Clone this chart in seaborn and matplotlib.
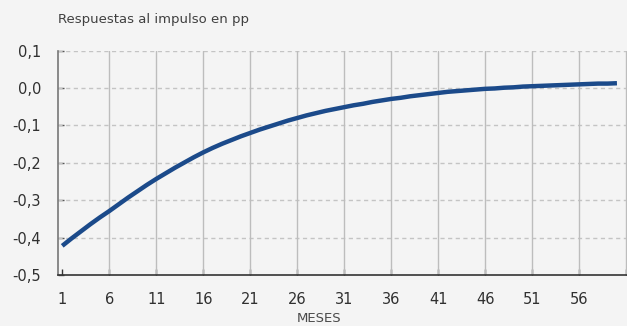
import numpy as np
import pandas as pd
import seaborn as sns
import matplotlib
matplotlib.use("Agg")
import matplotlib.pyplot as plt

# impulse response
meses = list(range(1, 61))
respuesta = [
    -0.422, -0.402, -0.383, -0.364, -0.346,
    -0.329, -0.311, -0.293, -0.276, -0.259,
    -0.243, -0.228, -0.213, -0.199, -0.185,
    -0.172, -0.160, -0.149, -0.139, -0.129,
    -0.120, -0.111, -0.103, -0.095, -0.087,
    -0.080, -0.073, -0.067, -0.061, -0.056,
    -0.051, -0.046, -0.042, -0.037, -0.033,
    -0.029, -0.026, -0.022, -0.019, -0.016,
    -0.013, -0.010, -0.008, -0.006, -0.004,
    -0.002, -0.001, 0.001, 0.002, 0.004,
    0.005, 0.006, 0.007, 0.008, 0.009,
    0.010, 0.011, 0.012, 0.012, 0.013,
]
x_ticks = list(range(1, 62, 5))
x_labels = [str(t) for t in range(1, 57, 5)] + [""]
y_ticks = [-0.5, -0.4, -0.3, -0.2, -0.1, 0.0, 0.1]
y_labels = ["-0,5", "-0,4", "-0,3", "-0,2", "-0,1", "0,0", "0,1"]

df = pd.DataFrame({"mes": meses, "resp": respuesta})

sns.set_style("ticks")
plt.rcParams["font.family"] = ["DejaVu Sans"]

bg = "#f4f4f4"
fig = plt.figure(figsize=(6.27, 3.26), dpi=100, facecolor=bg)
ax = fig.add_axes([0.0925, 0.1564, 0.9075, 0.6881], facecolor=bg)

sns.lineplot(data=df, x="mes", y="resp", ax=ax, color="#1b4a8a", lw=3.2,
             solid_capstyle="butt", zorder=3)

ax.set_xlim(0.55, 61.07)
ax.set_ylim(-0.5, 0.1)
ax.set_xticks(x_ticks)
ax.set_xticklabels(x_labels)
ax.set_yticks(y_ticks)
ax.set_yticklabels(y_labels)

# grid: dashed horizontals, solid verticals
for y in y_ticks[1:]:
    ax.axhline(y, color="#c4c4c4", lw=1, ls=(0, (3, 2.5)), zorder=1)
for x in x_ticks[1:]:
    ax.axvline(x, color="#bdbdbd", lw=1, zorder=1)

for s in ["top", "right"]:
    ax.spines[s].set_visible(False)
ax.spines["left"].set_color("#777777")
ax.spines["left"].set_linewidth(1.2)
ax.spines["bottom"].set_color("#333333")
ax.spines["bottom"].set_linewidth(1.2)

ax.tick_params(axis="x", direction="in", length=4, width=1, colors="#333333",
               pad=12, labelsize=10.5, labelcolor="#303030")
ax.tick_params(axis="y", direction="in", length=4, width=1, colors="#555555",
               pad=12.2, labelsize=10.5, labelcolor="#303030")

ax.set_xlabel("MESES", fontsize=9.5, color="#4a4a4a", va="center")
ax.xaxis.set_label_coords(0.4596, -0.195)
ax.set_ylabel("")
fig.text(0.092, 0.94, "Respuestas al impulso en pp", fontsize=9.5,
         color="#404040", va="center", ha="left")

fig.savefig("out.png", dpi=100, facecolor=bg)
